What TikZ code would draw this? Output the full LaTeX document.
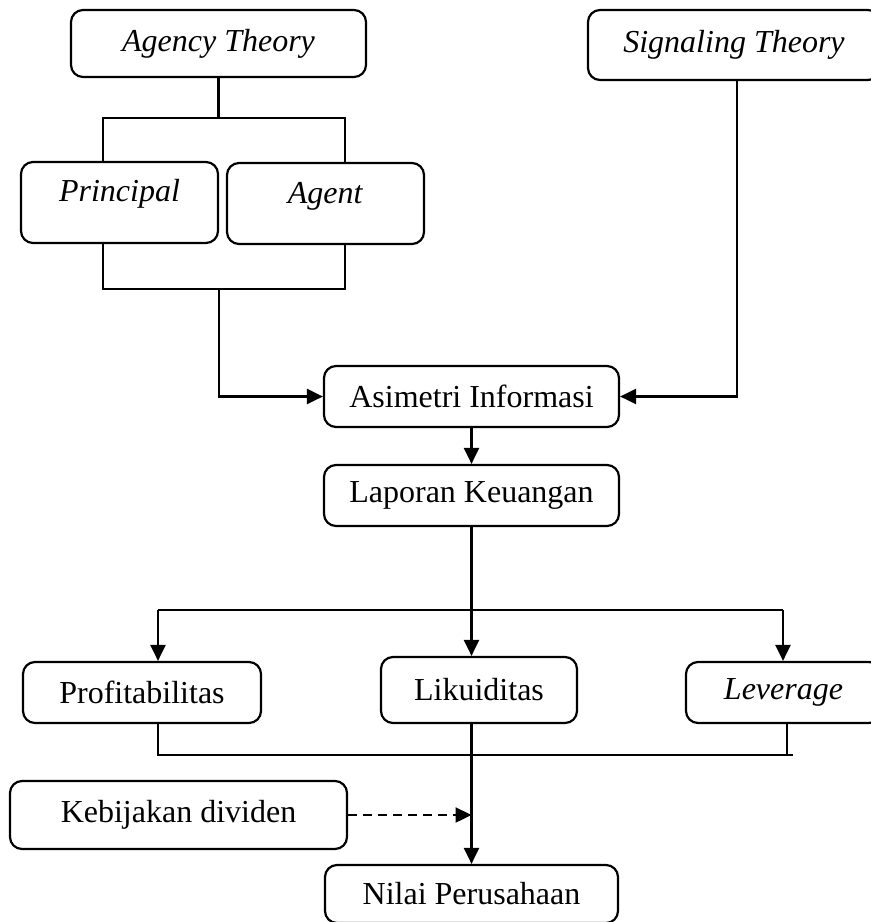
\documentclass[tikz,border=0pt]{standalone}
\usepackage{fontspec}
\setmainfont{Liberation Serif}
\usetikzlibrary{shapes, arrows.meta}
\tikzstyle{box} = [rectangle, rounded corners=6pt, draw=black, line width=1.1pt, text centered, inner sep=0pt, font=\fontsize{16}{19}\selectfont]
\tikzstyle{line} = [line width=1.2pt]
\tikzstyle{arrow} = [line width=1.2pt, -{Triangle[length=8pt,width=7.5pt]}]
\tikzstyle{dasharrow} = [arrow, dash pattern=on 4.5pt off 3pt]

\begin{document}
\begin{tikzpicture}[x=0.5pt, y=-0.5pt]
\useasboundingbox (0,0) rectangle (871,922);

%==============================================
%Teori
%==============================================
\node (agency) [box, minimum width=147.5pt, minimum height=33.5pt] at (218.5,43.5) {\textit{Agency Theory}};
\node (signal) [box, minimum width=146pt, minimum height=35pt] at (734,45) {\textit{Signaling Theory}};

%Principal dan agent==============================
\node (principal) [box, minimum width=98.5pt, minimum height=40.5pt, text height=11pt, text depth=12.5pt] at (119.5,202.5) {\textit{Principal}};
\node (agent) [box, minimum width=98.5pt, minimum height=40.5pt, text height=11pt, text depth=11pt] at (325.5,203.5) {\textit{Agent}};

%Asimetri dan laporan=============================
\node (asimetri) [box, minimum width=147.5pt, minimum height=30.5pt] at (471.5,396.5) {Asimetri Informasi};
\node (laporan) [box, minimum width=147.5pt, minimum height=30.5pt] at (471.5,495.5) {Laporan Keuangan};

%Rasio keuangan===================================
\node (profit) [box, minimum width=119pt, minimum height=30.5pt] at (142,692.5) {Profitabilitas};
\node (likuid) [box, minimum width=98pt, minimum height=33pt] at (479,690) {Likuiditas};
\node (leverage) [box, minimum width=97.5pt, minimum height=30.5pt] at (783.5,692.5) {\textit{Leverage}};

%Dividen dan nilai================================
\node (kebijakan) [box, minimum width=168.5pt, minimum height=34pt] at (178.5,815) {Kebijakan dividen};
\node (nilai) [box, minimum width=146.5pt, minimum height=29pt] at (471.5,894) {Nilai Perusahaan};

%==============================================
\coordinate (ptop) at (103,118);
\coordinate (atop) at (345,118);
\coordinate (pbot) at (103,289);
\coordinate (abot) at (345,289);
\coordinate (jbot) at (219,289);
\coordinate (rleft) at (158,610);
\coordinate (rright) at (783,610);
\coordinate (qleft) at (158,755);
\coordinate (qright) at (793,755);

\draw [line] (agency.south) -- (agency.south |- ptop);
\draw [line] (principal.north -| ptop) -- (ptop) -- (atop) -- (agent.north -| atop);
\draw [line] (principal.south -| pbot) -- (pbot) -- (abot) -- (agent.south -| abot);
\draw [arrow] (jbot) |- (asimetri.west);
\draw [arrow] ([xshift=1.5pt]signal.south) |- (asimetri.east);
\draw [arrow] (asimetri) -- (laporan);
\draw [arrow] (laporan.south) -- (laporan.south |- likuid.north);
\draw [line] (rleft) -- (rright);
\draw [arrow] (rleft) -- (rleft |- profit.north);
\draw [arrow] (rright) -- (rright |- leverage.north);
\draw [line] (profit.south -| qleft) -- (qleft) -- (qright);
\draw [line] ([xshift=1.75pt]leverage.south) -- ([xshift=1.75pt]leverage.south |- qright);
\draw [arrow] (likuid.south -| laporan.south) -- (nilai.north -| laporan.south);
\draw [dasharrow] (kebijakan.east) -- (kebijakan.east -| laporan.south);
\end{tikzpicture}
\end{document}
